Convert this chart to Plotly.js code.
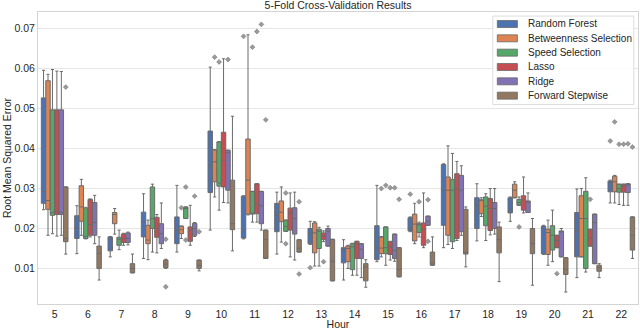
<!DOCTYPE html>
<html>
<head>
<meta charset="utf-8">
<script src="https://cdn.plot.ly/plotly-3.0.1.min.js"></script>
<style>
  html, body { margin: 0; padding: 0; background: #fff; }
  #chart { width: 640px; height: 330px; }
</style>
</head>
<body>
<div id="chart"></div>
<script>
// Hours on the x axis
const hours = [5, 6, 7, 8, 9, 10, 11, 12, 13, 14, 15, 16, 17, 18, 19, 20, 21, 22];

const seriesNames = ['Random Forest', 'Betweenness Selection', 'Speed Selection', 'Lasso', 'Ridge', 'Forward Stepwise'];
const seriesColors = ['#4c72b0', '#dd8452', '#55a868', '#c44e52', '#8172b3', '#937860'];

// One row per hour: [lower whisker, q1, median, q3, upper whisker]
const randomForest = [
  [0.0247, 0.0263, 0.0292, 0.0527, 0.0596], [0.0137, 0.0175, 0.0202, 0.0232, 0.0257],
  [0.0129, 0.0144, 0.0173, 0.0179, 0.0180], [0.0125, 0.0179, 0.0217, 0.0241, 0.0287],
  [0.0141, 0.0162, 0.0195, 0.0229, 0.0308], [0.0196, 0.0290, 0.0357, 0.0444, 0.0604],
  [0.0174, 0.0176, 0.0197, 0.0281, 0.0282], [0.0136, 0.0192, 0.0233, 0.0263, 0.0291],
  [0.0160, 0.0162, 0.0187, 0.0200, 0.0218], [0.0071, 0.0114, 0.0147, 0.0152, 0.0172],
  [0.0117, 0.0122, 0.0151, 0.0207, 0.0308], [0.0192, 0.0194, 0.0200, 0.0227, 0.0229],
  [0.0152, 0.0208, 0.0296, 0.0360, 0.0362], [0.0169, 0.0200, 0.0258, 0.0277, 0.0312],
  [0.0218, 0.0239, 0.0246, 0.0277, 0.0279], [0.0135, 0.0137, 0.0200, 0.0206, 0.0208],
  [0.0077, 0.0129, 0.0193, 0.0240, 0.0299], [0.0264, 0.0292, 0.0315, 0.0319, 0.0321]
];
const betweenness = [
  [0.0183, 0.0248, 0.0270, 0.0570, 0.0586], [0.0183, 0.0218, 0.0254, 0.0307, 0.0323],
  [0.0186, 0.0212, 0.0235, 0.0240, 0.0250], [0.0122, 0.0162, 0.0171, 0.0208, 0.0221],
  [0.0175, 0.0187, 0.0197, 0.0206, 0.0206], [0.0279, 0.0317, 0.0367, 0.0397, 0.0397],
  [0.0234, 0.0236, 0.0321, 0.0424, 0.0685], [0.0166, 0.0217, 0.0241, 0.0269, 0.0304],
  [0.0106, 0.0139, 0.0189, 0.0214, 0.0217], [0.0100, 0.0117, 0.0150, 0.0156, 0.0158],
  [0.0129, 0.0137, 0.0151, 0.0178, 0.0180], [0.0162, 0.0169, 0.0211, 0.0236, 0.0263],
  [0.0160, 0.0183, 0.0296, 0.0329, 0.0407], [0.0230, 0.0237, 0.0270, 0.0272, 0.0277],
  [0.0277, 0.0277, 0.0296, 0.0311, 0.0317], [0.0108, 0.0135, 0.0190, 0.0198, 0.0221],
  [0.0129, 0.0129, 0.0225, 0.0282, 0.0300], [0.0264, 0.0292, 0.0317, 0.0331, 0.0333]
];
const speedSelection = [
  [0.0187, 0.0233, 0.0240, 0.0497, 0.0598], [0.0174, 0.0175, 0.0180, 0.0251, 0.0253],
  [0.0147, 0.0158, 0.0173, 0.0178, 0.0196], [0.0141, 0.0200, 0.0225, 0.0304, 0.0311],
  [0.0225, 0.0225, 0.0250, 0.0254, 0.0254], [0.0246, 0.0306, 0.0314, 0.0417, 0.0417],
  [0.0216, 0.0236, 0.0238, 0.0293, 0.0293], [0.0193, 0.0193, 0.0205, 0.0221, 0.0221],
  [0.0106, 0.0150, 0.0193, 0.0198, 0.0203], [0.0083, 0.0097, 0.0154, 0.0162, 0.0163],
  [0.0108, 0.0137, 0.0152, 0.0204, 0.0204], [0.0179, 0.0190, 0.0210, 0.0212, 0.0216],
  [0.0150, 0.0167, 0.0296, 0.0323, 0.0388], [0.0170, 0.0207, 0.0256, 0.0279, 0.0287],
  [0.0258, 0.0258, 0.0265, 0.0273, 0.0279], [0.0117, 0.0146, 0.0183, 0.0207, 0.0246],
  [0.0091, 0.0100, 0.0225, 0.0293, 0.0327], [0.0260, 0.0291, 0.0300, 0.0311, 0.0311]
];
const lasso = [
  [0.0181, 0.0235, 0.0243, 0.0497, 0.0594], [0.0179, 0.0183, 0.0210, 0.0273, 0.0274],
  [0.0158, 0.0165, 0.0175, 0.0186, 0.0188], [0.0139, 0.0178, 0.0200, 0.0228, 0.0235],
  [0.0158, 0.0168, 0.0196, 0.0204, 0.0258], [0.0265, 0.0304, 0.0371, 0.0441, 0.0625],
  [0.0216, 0.0237, 0.0262, 0.0312, 0.0312], [0.0129, 0.0196, 0.0239, 0.0251, 0.0289],
  [0.0167, 0.0172, 0.0181, 0.0189, 0.0194], [0.0083, 0.0125, 0.0162, 0.0168, 0.0168],
  [0.0121, 0.0135, 0.0154, 0.0167, 0.0168], [0.0152, 0.0158, 0.0198, 0.0214, 0.0289],
  [0.0170, 0.0175, 0.0300, 0.0337, 0.0368], [0.0184, 0.0195, 0.0250, 0.0275, 0.0300],
  [0.0239, 0.0246, 0.0272, 0.0282, 0.0329], [0.0152, 0.0152, 0.0170, 0.0183, 0.0183],
  [0.0156, 0.0156, 0.0175, 0.0198, 0.0198], [0.0258, 0.0291, 0.0306, 0.0311, 0.0311]
];
const ridge = [
  [0.0183, 0.0235, 0.0240, 0.0497, 0.0593], [0.0162, 0.0183, 0.0215, 0.0265, 0.0283],
  [0.0159, 0.0165, 0.0175, 0.0189, 0.0191], [0.0150, 0.0162, 0.0187, 0.0212, 0.0264],
  [0.0180, 0.0183, 0.0200, 0.0213, 0.0215], [0.0264, 0.0296, 0.0390, 0.0396, 0.0396],
  [0.0196, 0.0212, 0.0257, 0.0293, 0.0293], [0.0121, 0.0186, 0.0225, 0.0252, 0.0291],
  [0.0156, 0.0156, 0.0193, 0.0200, 0.0206], [0.0077, 0.0125, 0.0148, 0.0162, 0.0162],
  [0.0118, 0.0125, 0.0145, 0.0186, 0.0186], [0.0208, 0.0208, 0.0218, 0.0231, 0.0231],
  [0.0183, 0.0192, 0.0296, 0.0333, 0.0357], [0.0186, 0.0200, 0.0250, 0.0265, 0.0300],
  [0.0240, 0.0240, 0.0266, 0.0269, 0.0289], [0.0129, 0.0129, 0.0192, 0.0194, 0.0200],
  [0.0112, 0.0112, 0.0215, 0.0236, 0.0236], [0.0258, 0.0290, 0.0309, 0.0312, 0.0312]
];
const forwardStepwise = [
  [0.0136, 0.0167, 0.0175, 0.0304, 0.0304], [0.0071, 0.0100, 0.0138, 0.0156, 0.0179],
  [0.0089, 0.0089, 0.0100, 0.0112, 0.0136], [0.0100, 0.0102, 0.0111, 0.0121, 0.0123],
  [0.0094, 0.0100, 0.0108, 0.0121, 0.0121], [0.0144, 0.0197, 0.0212, 0.0321, 0.0481],
  [0.0125, 0.0125, 0.0172, 0.0196, 0.0196], [0.0141, 0.0141, 0.0151, 0.0172, 0.0172],
  [0.0069, 0.0069, 0.0118, 0.0173, 0.0173], [0.0053, 0.0069, 0.0104, 0.0112, 0.0122],
  [0.0079, 0.0079, 0.0098, 0.0152, 0.0152], [0.0108, 0.0108, 0.0114, 0.0141, 0.0179],
  [0.0104, 0.0136, 0.0140, 0.0248, 0.0254], [0.0067, 0.0139, 0.0172, 0.0204, 0.0216],
  [0.0058, 0.0137, 0.0162, 0.0200, 0.0225], [0.0041, 0.0085, 0.0098, 0.0127, 0.0127],
  [0.0077, 0.0093, 0.0102, 0.0108, 0.0112], [0.0125, 0.0146, 0.0183, 0.0229, 0.0229]
];

// Outliers: [hour, value]
const randomForestOut = [[11, 0.0681], [13, 0.0102], [16, 0.0286], [22, 0.0419]];
const betweennessOut = [[9, 0.0252], [10, 0.0629], [15, 0.0300], [22, 0.0467]];
const speedSelectionOut = [[9, 0.0304], [9, 0.0171], [10, 0.0617], [11, 0.0654], [12, 0.0289], [12, 0.0162],
  [15, 0.0308], [16, 0.0267], [19, 0.0204], [22, 0.0411]];
const lassoOut = [[11, 0.0693], [13, 0.0117], [15, 0.0302], [20, 0.0087], [21, 0.0273], [22, 0.0411]];
const ridgeOut = [[9, 0.0281], [10, 0.0623], [11, 0.0711], [15, 0.0302], [16, 0.0272], [16, 0.0168], [22, 0.0412]];
const forwardStepwiseOut = [[5, 0.0554], [8, 0.0173], [8, 0.0054], [9, 0.0192], [11, 0.0472], [12, 0.0267],
  [12, 0.0086], [15, 0.0273], [22, 0.0404]];

const yTicks = [0.01, 0.02, 0.03, 0.04, 0.05, 0.06, 0.07];

const stats = [randomForest, betweenness, speedSelection, lasso, ridge, forwardStepwise];
const fliers = [randomForestOut, betweennessOut, speedSelectionOut, lassoOut, ridgeOut, forwardStepwiseOut];

const FONT = 'Liberation Sans, Arial, sans-serif';
const TEXT_COLOR = '#262626';
const EDGE = '#6a6a6a';
const BOX_GAP = 0.2;

const traces = stats.map((rows, i) => ({
  type: 'box',
  name: seriesNames[i],
  x: hours,
  lowerfence: rows.map(r => r[0]),
  q1: rows.map(r => r[1]),
  median: rows.map(r => r[2]),
  q3: rows.map(r => r[3]),
  upperfence: rows.map(r => r[4]),
  boxpoints: false,
  fillcolor: seriesColors[i],
  line: { color: EDGE, width: 1 },
  whiskerwidth: 0.7,
  showlegend: false,
  hoverinfo: 'skip'
}));

// Outliers sit at the centre of their box inside the hour group
fliers.forEach((pts, i) => {
  const shift = (1 - BOX_GAP) * (-0.5 + (i + 0.5) / stats.length);
  traces.push({
    type: 'scatter',
    mode: 'markers',
    x: pts.map(p => p[0] + shift),
    y: pts.map(p => p[1]),
    marker: { symbol: 'diamond', size: 3.8, color: '#9a9a9a', line: { color: '#6a6a6a', width: 0.5 } },
    showlegend: false,
    hoverinfo: 'skip'
  });
});

// Legend drawn as shapes + annotations (matches the compact matplotlib legend)
const shapes = [{
  type: 'rect', xref: 'paper', yref: 'paper',
  x0: 0.758, x1: 0.993, y0: 0.683, y1: 0.986,
  fillcolor: 'rgba(255,255,255,0.85)', line: { color: '#dcdcdc', width: 1 }, layer: 'above'
}];
const annotations = [];
seriesNames.forEach((name, i) => {
  const yc = 1 - (24 - 12 + i * 14.33) / 292;
  shapes.push({
    type: 'rect', xref: 'paper', yref: 'paper',
    x0: 0.7655, x1: 0.799, y0: yc - 0.012, y1: yc + 0.012,
    fillcolor: seriesColors[i], line: { color: EDGE, width: 0.8 }, layer: 'above'
  });
  annotations.push({
    xref: 'paper', yref: 'paper', x: 0.8133, y: yc,
    xanchor: 'left', yanchor: 'middle', showarrow: false,
    text: name, font: { family: FONT, size: 10, color: TEXT_COLOR }
  });
});

const layout = {
  width: 640,
  height: 330,
  paper_bgcolor: '#ffffff',
  plot_bgcolor: '#ffffff',
  font: { family: FONT, size: 10.5, color: TEXT_COLOR },
  margin: { l: 38, r: 2, t: 12, b: 26 },
  title: {
    text: '5-Fold Cross-Validation Results',
    x: 0.5, xref: 'paper', y: 0.985, yref: 'container', yanchor: 'middle',
    font: { family: FONT, size: 10.5, color: TEXT_COLOR }
  },
  boxmode: 'group',
  boxgap: BOX_GAP,
  boxgroupgap: 0,
  showlegend: false,
  xaxis: {
    range: [4.5, 22.5],
    tickvals: hours,
    ticktext: hours.map(String),
    showgrid: false,
    zeroline: false,
    showline: true, mirror: true, linecolor: '#d4d4d4', linewidth: 1,
    ticks: '',
    automargin: false,
    title: { text: 'Hour', standoff: 6, font: { family: FONT, size: 10.5, color: TEXT_COLOR } }
  },
  yaxis: {
    range: [0.0011, 0.0742],
    tickvals: yTicks,
    ticktext: yTicks.map(v => v.toFixed(2)),
    showgrid: true, gridcolor: '#e6e6e6', gridwidth: 1,
    zeroline: false,
    showline: true, mirror: true, linecolor: '#d4d4d4', linewidth: 1,
    ticks: '',
    automargin: false,
    title: { text: 'Root Mean Squared Error', standoff: 0, font: { family: FONT, size: 10.5, color: TEXT_COLOR } }
  },
  shapes: shapes,
  annotations: annotations
};

Plotly.newPlot('chart', traces, layout, { displayModeBar: false, staticPlot: true });
</script>
</body>
</html>
